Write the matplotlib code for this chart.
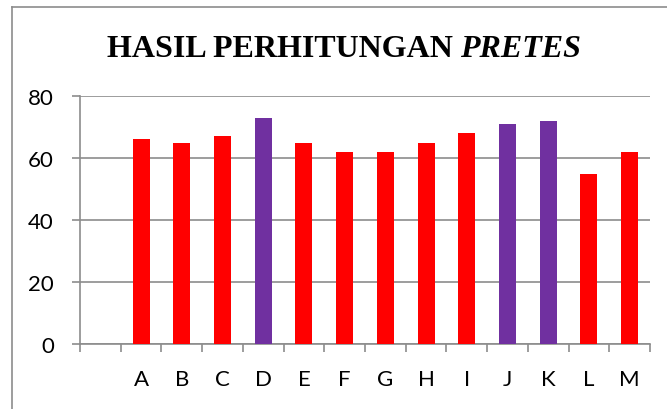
import matplotlib
matplotlib.use("Agg")
import matplotlib.pyplot as plt
from matplotlib.lines import Line2D
import numpy as np

# data
labels = ["A", "B", "C", "D", "E", "F", "G", "H", "I", "J", "K", "L", "M"]
values = [66, 65, 67, 73, 65, 62, 62, 65, 68, 71, 72, 55, 62]
highlight = ["D", "J", "K"]

red = "#FF0000"
purple = "#7030A0"
grid_col = "#8C8C8C"

W, H = 667, 410
fig = plt.figure(figsize=(W / 100, H / 100), dpi=100)
ax = fig.add_axes([80 / W, (H - 345) / H, (650 - 80) / W, (345 - 97) / H])

x = np.arange(len(labels))
colors = [purple if lab in highlight else red for lab in labels]
ax.bar(x, values, width=0.42, color=colors, zorder=3)

# one empty category slot on the left, as in the original
ax.set_xlim(-1.5, len(labels) - 0.5)
ax.set_ylim(0, 80)
ax.set_yticks([0, 20, 40, 60, 80])
ax.set_xticks(x)
ax.set_xticklabels(labels)
ax.set_xticks(np.arange(-1.5, len(labels)), minor=True)

ax.grid(axis="y", color=grid_col, linewidth=1.2, zorder=0)
for side in ["top", "right"]:
    ax.spines[side].set_visible(False)
for side in ["left", "bottom"]:
    ax.spines[side].set_color(grid_col)
    ax.spines[side].set_linewidth(1.2)

tick_font = {"family": "Lato", "size": 16}
ax.tick_params(axis="y", length=5.8, width=1.2, color=grid_col, pad=13, labelsize=16)
ax.tick_params(axis="x", which="major", length=0, pad=18, labelsize=16)
ax.tick_params(axis="x", which="minor", length=5.8, width=1.2, color=grid_col)
for t in ax.get_xticklabels() + ax.get_yticklabels():
    t.set_fontfamily("Lato")

# title: bold serif, last word italic
t1 = fig.text(0, 0, "HASIL PERHITUNGAN ", family="Liberation Serif", weight="bold", size=23)
t2 = fig.text(0, 0, "PRETES", family="Liberation Serif", weight="bold", style="italic", size=23)
fig.canvas.draw()
r = fig.canvas.get_renderer()
w1 = t1.get_window_extent(r).width
w2 = t2.get_window_extent(r).width
cx = 344
x0 = cx - (w1 + w2) / 2
ybase = (H - 57) / H
t1.set_position((x0 / W, ybase))
t2.set_position(((x0 + w1) / W, ybase))

# outer chart frame (left and top edges visible)
fig.add_artist(Line2D([11.5 / W, 11.5 / W], [0, (H - 7.5) / H], color=grid_col, lw=1.2))
fig.add_artist(Line2D([11.5 / W, 1], [(H - 7.5) / H, (H - 7.5) / H], color=grid_col, lw=1.2))

fig.savefig("out.png", dpi=100)
